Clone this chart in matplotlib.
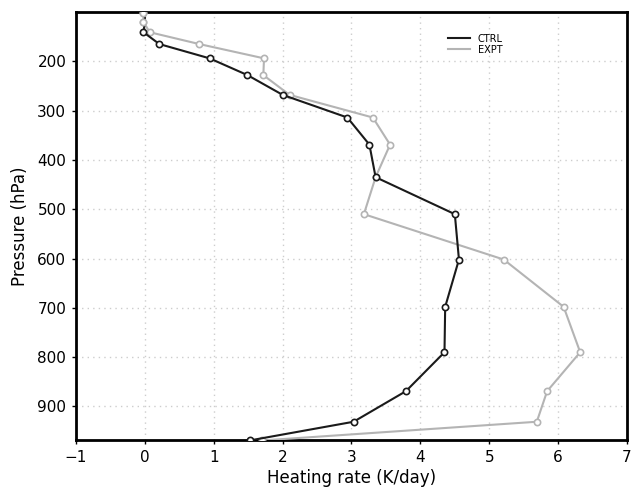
import numpy as np
import matplotlib
matplotlib.use("Agg")
import matplotlib.pyplot as plt

# pressure levels (hPa) and heating rates (K/day)
pres = [102, 120, 141, 165, 194, 228, 268, 314, 369, 435, 510, 602, 698, 790, 869, 931, 969]
ctrl = [0.0, 0.0, -0.02, 0.21, 0.94, 1.49, 2.0, 2.94, 3.26, 3.35, 4.5, 4.56, 4.36, 4.35, 3.79, 3.03, 1.52]
expt = [-0.02, -0.02, 0.07, 0.79, 1.73, 1.72, 2.1, 3.31, 3.56, 3.35, 3.18, 5.21, 6.08, 6.32, 5.84, 5.69, 1.7]

xticks = [-1, 0, 1, 2, 3, 4, 5, 6, 7]
yticks = [200, 300, 400, 500, 600, 700, 800, 900]

fig = plt.figure(figsize=(6.31, 4.92), dpi=100)
ax = fig.add_axes([0.1204, 0.1057, 0.8733, 0.8699])

ax.plot(expt, pres, color='#b4b4b4', lw=1.5, marker='o', ms=4.5,
        mfc='white', mec='#b4b4b4', mew=1.2, label='EXPT', zorder=3)
# top two CTRL markers sit under the EXPT ones in the original
ax.plot(ctrl, pres, color='#1a1a1a', lw=1.5, marker='o', ms=4.5,
        mfc='white', mec='#1a1a1a', mew=1.2, label='CTRL', zorder=4,
        markevery=list(range(2, len(pres))))
ax.plot(expt[:2], pres[:2], ls='none', marker='o', ms=4.5,
        mfc='white', mec='#b4b4b4', mew=1.2, zorder=5)

ax.set_xlim(-1, 7)
ax.set_ylim(968, 100)
ax.set_xticks(xticks)
ax.set_yticks(yticks)
ax.set_xticklabels(['\u22121' if t == -1 else str(t) for t in xticks])
ax.grid(True, color='#cdcdcd', ls=(0, (1, 3)), lw=1)
ax.tick_params(direction='out', length=3, width=1, labelsize=11, pad=4)
for s in ax.spines.values():
    s.set_linewidth(2)

ax.set_xlabel('Heating rate (K/day)', fontsize=12, labelpad=3)
ax.set_ylabel('Pressure (hPa)', fontsize=12, labelpad=6)

ax.legend([plt.Line2D([], [], color='#1a1a1a', lw=1.5),
           plt.Line2D([], [], color='#b4b4b4', lw=1.5)],
          ['CTRL', 'EXPT'], loc='upper left', bbox_to_anchor=(0.66, 0.97),
          frameon=False, fontsize=7, handlelength=2.2, labelspacing=0.1,
          handletextpad=0.8)

fig.savefig('out.png', dpi=100)
